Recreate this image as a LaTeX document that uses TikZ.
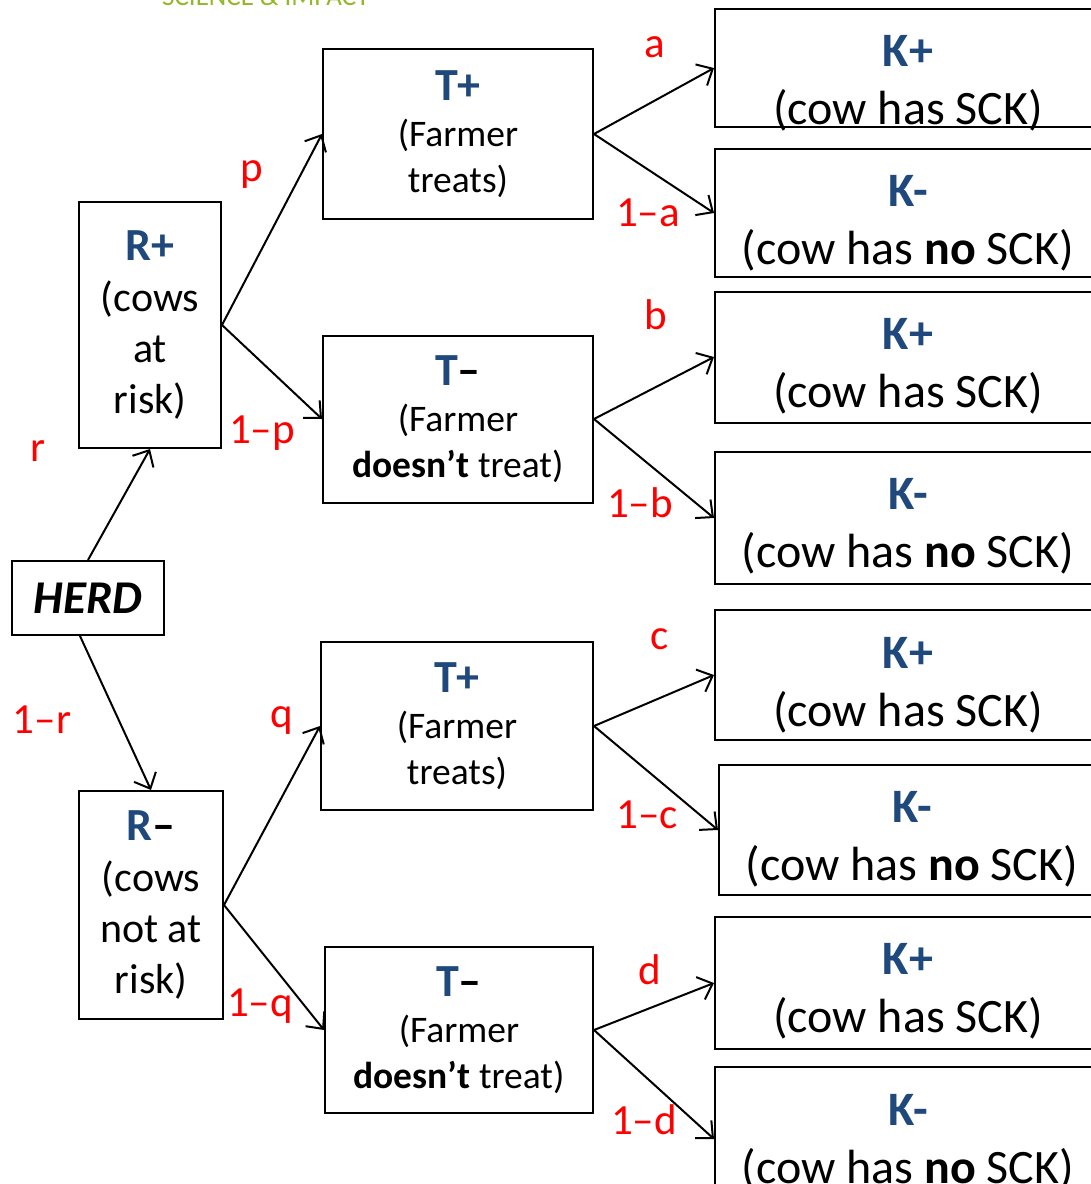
\documentclass[tikz,border=0pt]{standalone}
\usepackage{fontspec}
\setmainfont{Carlito}
\usepackage{xcolor}
\usetikzlibrary{arrows.meta}
\definecolor{kblue}{RGB}{31,73,125}
\definecolor{logogreen}{RGB}{146,184,40}
\newcommand{\blu}[1]{\textcolor{kblue}{\textbf{#1}}}
\tikzset{
  box/.style={draw, line width=2pt, inner sep=0pt, align=center},
  prob/.style={text=red, inner sep=0pt, font=\fontsize{43}{43}\selectfont},
  arr/.style={-{Straight Barb[length=13pt,width=24pt]}, line width=2pt},
  ktext/.style={anchor=north, inner sep=0pt, align=center, font=\fontsize{48}{58}\selectfont},
}

\begin{document}
\begin{tikzpicture}[x=1pt, y=-1pt]
  \useasboundingbox (0,0) rectangle (1091,1184);
  \clip (0,0) rectangle (1091,1184);
  \fill[white] (0,0) rectangle (1091,1184);
  \node[anchor=base west, inner sep=0pt, text=logogreen, font=\fontsize{27}{27}\selectfont] (logo) at (162,5) {SCIENCE \& IMPACT};

  % herd and risk
  \node[box, minimum width=152, minimum height=74, font=\fontsize{47}{47}\selectfont\bfseries\itshape] (herd) at (88,598) {HERD};
  \node[box, minimum width=142, minimum height=246, font=\fontsize{42}{51}\selectfont] (rp) at (150,325) {{\fontsize{46}{51}\selectfont\blu{R+}}\\(cows\\at\\risk)};
  \node[box, minimum width=144, minimum height=228, font=\fontsize{42}{51}\selectfont] (rm) at (151,905) {{\fontsize{46}{51}\selectfont\blu{R}\textbf{–}}\\(cows\\not at\\risk)};

  % treatment
  \node[box, minimum width=270, minimum height=170, font=\fontsize{37.5}{46}\selectfont] (tp1) at (458,134) {{\fontsize{46}{46}\selectfont\blu{T+}}\\(Farmer\\treats)};
  \node[box, minimum width=270, minimum height=167, font=\fontsize{37.5}{46}\selectfont] (tm1) at (458,419) {{\fontsize{46}{46}\selectfont\blu{T}\textbf{–}}\\(Farmer\\\textbf{doesn’t} treat)};
  \node[box, minimum width=272, minimum height=168, font=\fontsize{37.5}{46}\selectfont] (tp2) at (457,726) {{\fontsize{46}{46}\selectfont\blu{T+}}\\(Farmer\\treats)};
  \node[box, minimum width=268, minimum height=166, font=\fontsize{37.5}{46}\selectfont] (tm2) at (459,1030) {{\fontsize{46}{46}\selectfont\blu{T}\textbf{–}}\\(Farmer\\\textbf{doesn’t} treat)};

  % outcome
  \node[box, minimum width=386, minimum height=118] (k1) at (908,68) {};
  \node[box, minimum width=386, minimum height=128] (k2) at (908,213) {};
  \node[box, minimum width=386, minimum height=131] (k3) at (908,357) {};
  \node[box, minimum width=386, minimum height=132] (k4) at (908,518) {};
  \node[box, minimum width=386, minimum height=130] (k5) at (908,675) {};
  \node[box, minimum width=386, minimum height=130] (k6) at (912,830) {};
  \node[box, minimum width=386, minimum height=132] (k7) at (908,983) {};
  \node[box, minimum width=386, minimum height=130] (k8) at (908,1132) {};
  \node[ktext] (k1t) at (908,35) {\blu{K+}\\(cow has SCK)};
  \node[ktext] (k2t) at (908,175) {\blu{K-}\\(cow has \textbf{no} SCK)};
  \node[ktext] (k3t) at (908,318) {\blu{K+}\\(cow has SCK)};
  \node[ktext] (k4t) at (908,478) {\blu{K-}\\(cow has \textbf{no} SCK)};
  \node[ktext] (k5t) at (908,637) {\blu{K+}\\(cow has SCK)};
  \node[ktext] (k6t) at (912,791) {\blu{K-}\\(cow has \textbf{no} SCK)};
  \node[ktext] (k7t) at (908,943) {\blu{K+}\\(cow has SCK)};
  \node[ktext] (k8t) at (908,1094) {\blu{K-}\\(cow has \textbf{no} SCK)};

  \draw[arr] (herd.north) -- (rp.south);
  \draw[arr] ([xshift=-8]herd.south) -- (rm.north);
  \draw[arr] (rp.east) -- (tp1.west);
  \draw[arr] (rp.east) -- (tm1.west);
  \draw[arr] (rm.east) -- (tp2.west);
  \draw[arr] (rm.east) -- (tm2.west);
  \draw[arr] (tp1.east) -- (k1.west);
  \draw[arr] (tp1.east) -- (k2.west);
  \draw[arr] (tm1.east) -- (k3.west);
  \draw[arr] (tm1.east) -- (k4.west);
  \draw[arr] (tp2.east) -- (k5.west);
  \draw[arr] (tp2.east) -- (k6.west);
  \draw[arr] (tm2.east) -- (k7.west);
  \draw[arr] (tm2.east) -- ([yshift=-7]k8.west);

  \node[prob] (lr) at (38,451) {r};
  \node[prob] (lnr) at (42,720) {1–r};
  \node[prob] (lp) at (252,175) {p};
  \node[prob] (lnp) at (262,433) {1–p};
  \node[prob] (lq) at (282,721) {q};
  \node[prob] (lnq) at (260,1006) {1–q};
  \node[prob] (la) at (655,47) {a};
  \node[prob] (lna) at (648,213) {1–a};
  \node[prob] (lb) at (656,315) {b};
  \node[prob] (lnb) at (640,503) {1–b};
  \node[prob] (lc) at (660,639) {c};
  \node[prob] (lnc) at (647,815) {1–c};
  \node[prob] (ld) at (650,970) {d};
  \node[prob] (lnd) at (644,1120) {1–d};
\end{tikzpicture}
\end{document}
